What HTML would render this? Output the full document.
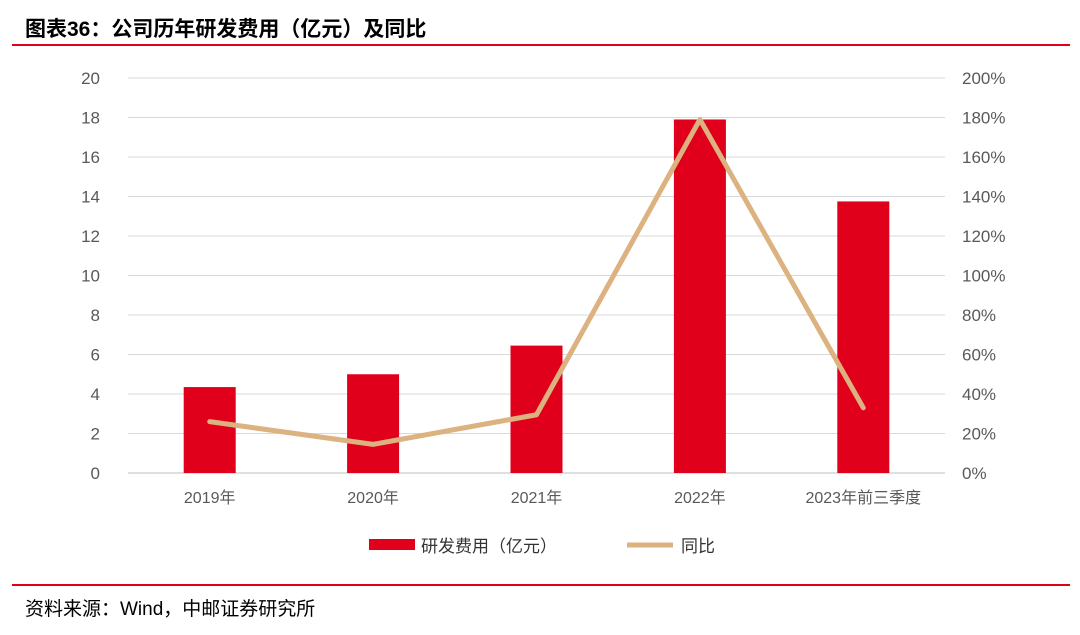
<!DOCTYPE html>
<html><head><meta charset="utf-8"><style>
body{margin:0;background:#fff;width:1080px;height:630px;overflow:hidden;font-family:"Liberation Sans","Noto Sans CJK SC",sans-serif;}
</style></head><body>
<svg width="1080" height="630" xmlns="http://www.w3.org/2000/svg">
<text x="25" y="36" font-size="21" font-weight="bold" fill="#000" font-family="Liberation Sans, Noto Sans CJK SC, sans-serif">图表36：公司历年研发费用（亿元）及同比</text>
<line x1="12" y1="45" x2="1070" y2="45" stroke="#e0001b" stroke-width="2"/>
<g id="grid"></g><g id="bars"></g><g id="line"></g><g id="axes"></g>
<g>
<rect x="369" y="539" width="46" height="11" fill="#e0001b"/>
<text x="421" y="552" font-size="17" fill="#333">研发费用（亿元）</text>
<line x1="627" y1="545" x2="673" y2="545" stroke="#dcb380" stroke-width="5"/>
<text x="681" y="552" font-size="17" fill="#333">同比</text>
</g>
<line x1="12" y1="585" x2="1070" y2="585" stroke="#e0001b" stroke-width="2"/>
<text x="25" y="615" font-size="19" fill="#000">资料来源：Wind，中邮证券研究所</text>
</svg>
<script>
const categories=["2019年","2020年","2021年","2022年","2023年前三季度"];
const rdExpense=[4.35,5.0,6.45,17.9,13.75];
const yoy=[26,14.5,29.5,179,33];
const leftTicks=[0,2,4,6,8,10,12,14,16,18,20];
const rightTicks=[0,20,40,60,80,100,120,140,160,180,200];
const NS="http://www.w3.org/2000/svg";
const x0=128,x1=945,y0=473,y1=78;
const band=(x1-x0)/categories.length;
const yL=v=>y0-(v/20)*(y0-y1);
const yR=v=>y0-(v/200)*(y0-y1);
const xc=i=>x0+band*(i+0.5);
function mk(tag,attrs,parent){const e=document.createElementNS(NS,tag);for(const k in attrs)e.setAttribute(k,attrs[k]);document.getElementById(parent).appendChild(e);return e;}
leftTicks.forEach((t,i)=>{
 const g=mk('line',{x1:x0,x2:x1,y1:yL(t),y2:yL(t),stroke:t===0?'#bfbfbf':'#d9d9d9','stroke-width':1},'grid');
 
 
 const l=mk('text',{x:100,y:yL(t)+6,'font-size':17,fill:'#595959','text-anchor':'end'},'axes');l.textContent=t;
 
 
});
rightTicks.forEach(t=>{
 const l=mk('text',{x:962,y:yR(t)+6,'font-size':17,fill:'#595959'},'axes');l.textContent=t+'%';
 
 
});
categories.forEach((c,i)=>{
 const l=mk('text',{x:xc(i),y:503,'font-size':16,fill:'#595959','text-anchor':'middle'},'axes');l.textContent=c;
 
 
});
rdExpense.forEach((v,i)=>{
 const b=mk('rect',{x:xc(i)-26,width:52,y:yL(v),height:y0-yL(v),fill:'#e0001b'},'bars');
 
 
});
const p=mk('polyline',{points:yoy.map((v,i)=>xc(i)+','+yR(v)).join(' '),fill:'none',stroke:'#dcb380','stroke-width':5,'stroke-linejoin':'round','stroke-linecap':'round'},'line');


</script>
</body></html>
